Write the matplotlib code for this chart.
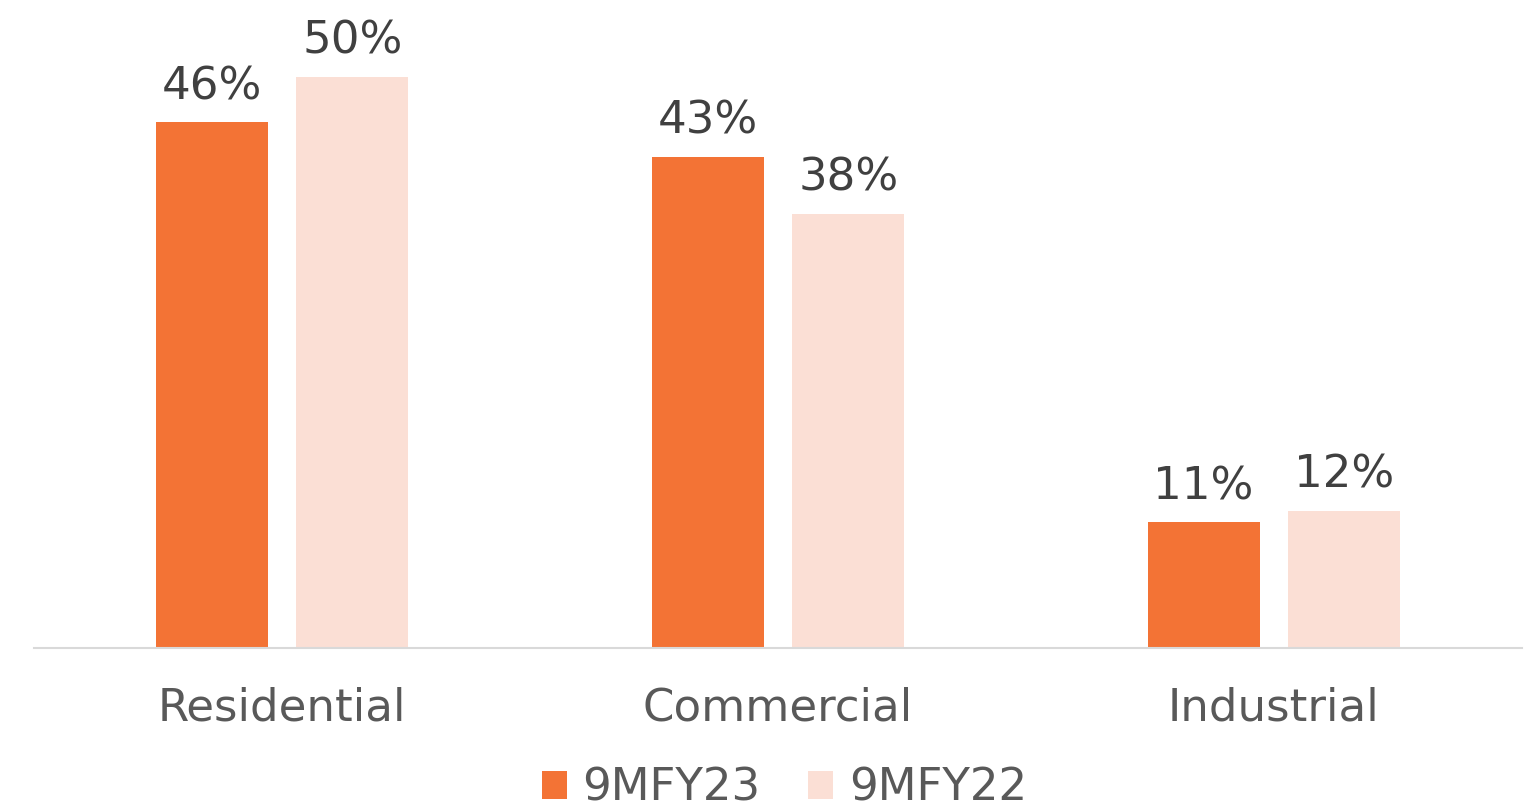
import numpy as np
import matplotlib.pyplot as plt

categories = ["Residential", "Commercial", "Industrial"]
fy23 = [46, 43, 11]
fy22 = [50, 38, 12]
series_names = ["9MFY23", "9MFY22"]

orange = "#F37335"
pink = "#FBDFD5"

plt.rcParams["font.family"] = ["DejaVu Sans"]

fig = plt.figure(figsize=(15.38, 8.10), dpi=100)
ax = fig.add_axes([34 / 1538, 0.2, 1488 / 1538, 0.8])

x = np.arange(len(categories))
w = 0.226
off = 0.142
b1 = ax.bar(x - off, fy23, w, color=orange, label=series_names[0])
b2 = ax.bar(x + off, fy22, w, color=pink, label=series_names[1])

for bars, vals in ((b1, fy23), (b2, fy22)):
    for r, v in zip(bars, vals):
        ax.annotate(f"{v}%", (r.get_x() + r.get_width() / 2, v),
                    xytext=(0, 10), textcoords="offset points",
                    ha="center", va="bottom", fontsize=32.5, color="#404040")

ax.set_xlim(-0.5, 2.5)
ax.set_ylim(0, 56.7)
ax.set_xticks(x, categories)
ax.tick_params(axis="x", length=0, pad=27.5, labelsize=32.5, labelcolor="#595959")
ax.set_yticks([])
for s in ("top", "right", "left"):
    ax.spines[s].set_visible(False)
ax.spines["bottom"].set_color("#D9D9D9")
ax.spines["bottom"].set_linewidth(1.5)

fig.legend(loc="lower center", bbox_to_anchor=(0.51, -0.05), ncol=2, frameon=False,
           fontsize=32.5, labelcolor="#595959", handlelength=0.55, handleheight=0.55,
           handletextpad=0.35, columnspacing=1.05)

fig.savefig("out.png", dpi=100)
